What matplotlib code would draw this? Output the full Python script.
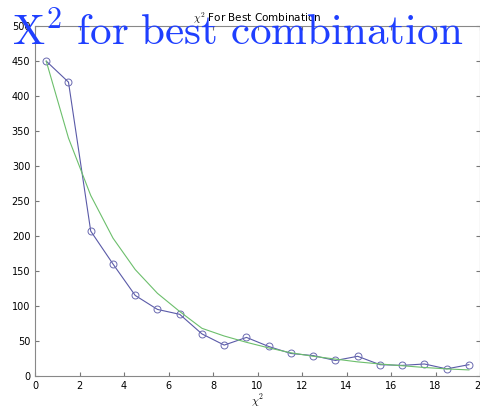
import numpy as np
import matplotlib.pyplot as plt

plt.rcParams['mathtext.fontset'] = 'cm'

x = np.arange(0.5, 20, 1.0)
chi2 = [450, 420, 207, 160, 115, 95, 88, 60, 44, 55, 42, 32, 29, 22, 28, 16, 15, 17, 10, 16]
fit = [450, 340, 258, 197, 152, 118, 92, 68, 57, 48, 40, 33, 28, 24, 20, 17, 14.5, 12, 10, 8.5]

fig = plt.figure(figsize=(4.81, 4.09), dpi=100)
ax = fig.add_axes([0.073, 0.081, 0.925, 0.855])

ax.plot(x, chi2, color='#5a5aa8', lw=0.8, marker='o', ms=5, mfc='none', mec='#6a6ab0', mew=0.7)
ax.plot(x, fit, color='#6cbf6c', lw=0.8)

ax.set_xlim(0, 20)
ax.set_ylim(0, 500)
ax.set_xticks(np.arange(0, 21, 2))
ax.set_yticks(np.arange(0, 501, 50))
ax.tick_params(direction='in', top=True, right=True, labelsize=7, length=3, color='#777777')
for s in ax.spines.values():
    s.set_color('#888888')
    s.set_linewidth(0.8)

ax.set_title(r'$\chi^2$ For Best Combination', fontsize=7.5, pad=3)
ax.set_xlabel(r'$\chi^2$', fontsize=8, labelpad=1)

fig.text(12 / 481, 1 - 46 / 409, r'$\mathrm{X^2\ for\ best\ combination}$',
         color='#1f3fff', fontsize=31, va='baseline', ha='left')

plt.savefig('out.png', dpi=100)
